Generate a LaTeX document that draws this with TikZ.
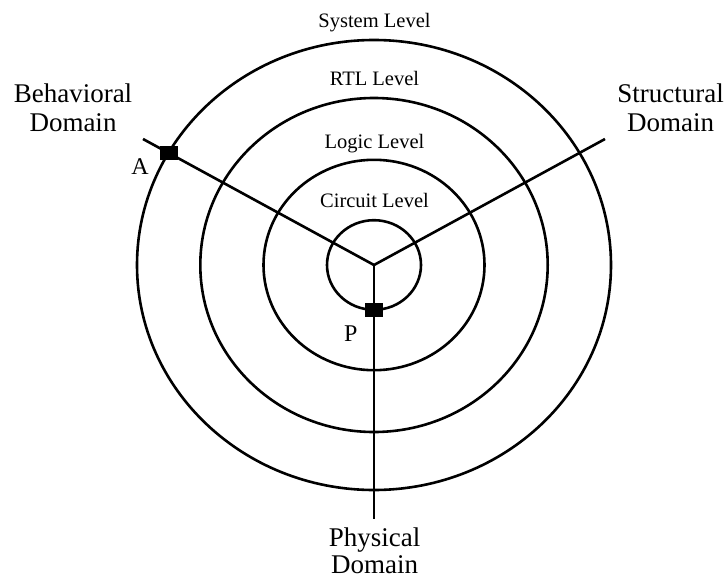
\documentclass[tikz,border=0pt]{standalone}
\usepackage{fontspec}
\setmainfont{Liberation Serif}
\begin{document}
\begin{tikzpicture}[x=1pt,y=-1pt,
  ring/.style={line width=2.6pt},
  axis/.style={line width=2.6pt},
  marker/.style={fill=black,draw=none,minimum width=18pt,minimum height=14pt,inner sep=0pt},
  lvl/.style={inner sep=0pt,anchor=base,font=\fontsize{20.5}{24}\selectfont},
  dom/.style={inner sep=0pt,anchor=base,align=center},
  pt/.style={inner sep=0pt,anchor=base,font=\fontsize{24}{28}\selectfont}]
\useasboundingbox (0,0) rectangle (725,578);
\coordinate (c) at (374,265);
\draw[ring] (c) ellipse [x radius=237pt, y radius=225pt];
\draw[ring] (c) ellipse [x radius=173.7pt, y radius=167pt];
\draw[ring] (c) ellipse [x radius=110.5pt, y radius=105.2pt];
\draw[ring] (c) ellipse [x radius=47pt, y radius=44.8pt];
\coordinate (bend) at (143,139);
\coordinate (send) at (605,139);
\coordinate (pend) at (374,519);
\draw[axis,line join=miter] (bend) -- (c) -- (send);
\draw[axis] (c) -- (pend);
\node[marker] (sqA) at (168.5,153) {};
\node[marker] (sqP) at (374,310) {};
\node[pt] (labA) at (140,174) {A};
\node[pt] (labP) at (350.7,341) {P};
\node[lvl] (sys) at (374.5,28) {System Level};
\node[lvl] (rtl) at (374.5,85) {RTL Level};
\node[lvl] (logic) at (374.5,148) {Logic Level};
\node[lvl] (circ) at (374.5,207) {Circuit Level};
\node[dom,font=\fontsize{27}{29.7}\selectfont] (beh) at (73,131.7) {Behavioral\\Domain};
\node[dom,font=\fontsize{27}{29}\selectfont] (str) at (670.5,131.7) {Structural\\Domain};
\node[dom,font=\fontsize{27}{27}\selectfont] (phy) at (374.5,573) {Physical\\Domain};
\end{tikzpicture}
\end{document}
